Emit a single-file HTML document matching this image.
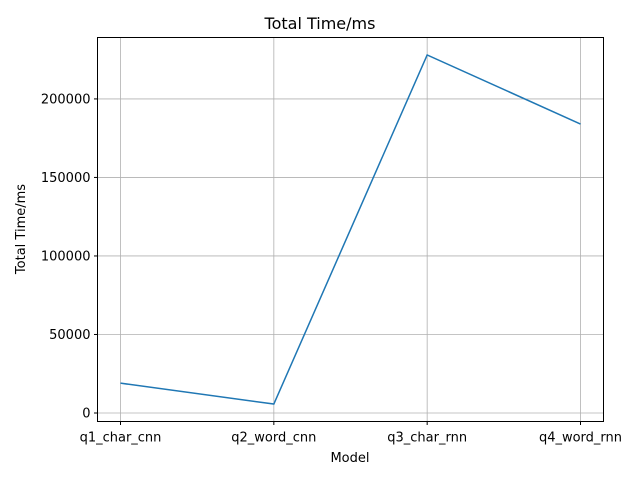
<!DOCTYPE html>
<html><head><meta charset="utf-8"><style>
body{margin:0;background:#fff;font-family:"Liberation Sans","DejaVu Sans",sans-serif;}
svg text{font-family:"DejaVu Sans","Liberation Sans",sans-serif;}
</style></head><body>
<svg id="chart" width="640" height="480" xmlns="http://www.w3.org/2000/svg">
<rect width="640" height="480" fill="#fff"/>
<g id="grid"></g>
<g id="ticks"></g>
<g id="series"></g>
<rect x="97.5" y="37.5" width="506" height="384" fill="none" stroke="#000" stroke-width="1"/>
<text x="320" y="29" text-anchor="middle" font-size="16">Total Time/ms</text>
<text x="350" y="462" text-anchor="middle" font-size="13">Model</text>
<text transform="translate(25,229) rotate(-90)" text-anchor="middle" font-size="13">Total Time/ms</text>
</svg>
<script>
const categories=["q1_char_cnn","q2_word_cnn","q3_char_rnn","q4_word_rnn"];
const values=[19000,5700,228000,184000];
const yTicks=[0,50000,100000,150000,200000];
const NS="http://www.w3.org/2000/svg";
const L=97.5,R=603.5,T=37.5,B=421.5;
const vmin=Math.min(...values),vmax=Math.max(...values),pad=(vmax-vmin)*0.05;
const y0=vmin-pad,y1=vmax+pad;
const xw=(R-L)/(categories.length-1+0.3);
function xs(i){return L+xw*0.15+i*xw;}
function ys(v){return B-(v-y0)/(y1-y0)*(B-T);}
function mk(t,a,p){const e=document.createElementNS(NS,t);for(const k in a)e.setAttribute(k,a[k]);p.appendChild(e);return e;}
const grid=document.getElementById('grid'),ticks=document.getElementById('ticks'),ser=document.getElementById('series');
categories.forEach((c,i)=>{
 const x=xs(i);
 const g=mk('line',{x1:x,x2:x,y1:T,y2:B,stroke:'#b0b0b0','stroke-width':0.8},grid);
 
 
 mk('line',{x1:x,x2:x,y1:B,y2:B+3.5,stroke:'#000'},ticks);
 const t=mk('text',{x:x,y:B+20,'text-anchor':'middle','font-size':13},ticks);
 t.textContent=c;
 
 
});
yTicks.forEach(v=>{
 const y=ys(v);
 const g=mk('line',{x1:L,x2:R,y1:y,y2:y,stroke:'#b0b0b0','stroke-width':0.8},grid);
 
 
 mk('line',{x1:L-3.5,x2:L,y1:y,y2:y,stroke:'#000'},ticks);
 const t=mk('text',{x:L-7,y:y+4.5,'text-anchor':'end','font-size':13},ticks);
 t.textContent=v;
 
 
});
const pts=values.map((v,i)=>xs(i)+','+ys(v)).join(' ');
const pl=mk('polyline',{points:pts,fill:'none',stroke:'#1f77b4','stroke-width':1.5},ser);


</script>
</body></html>
